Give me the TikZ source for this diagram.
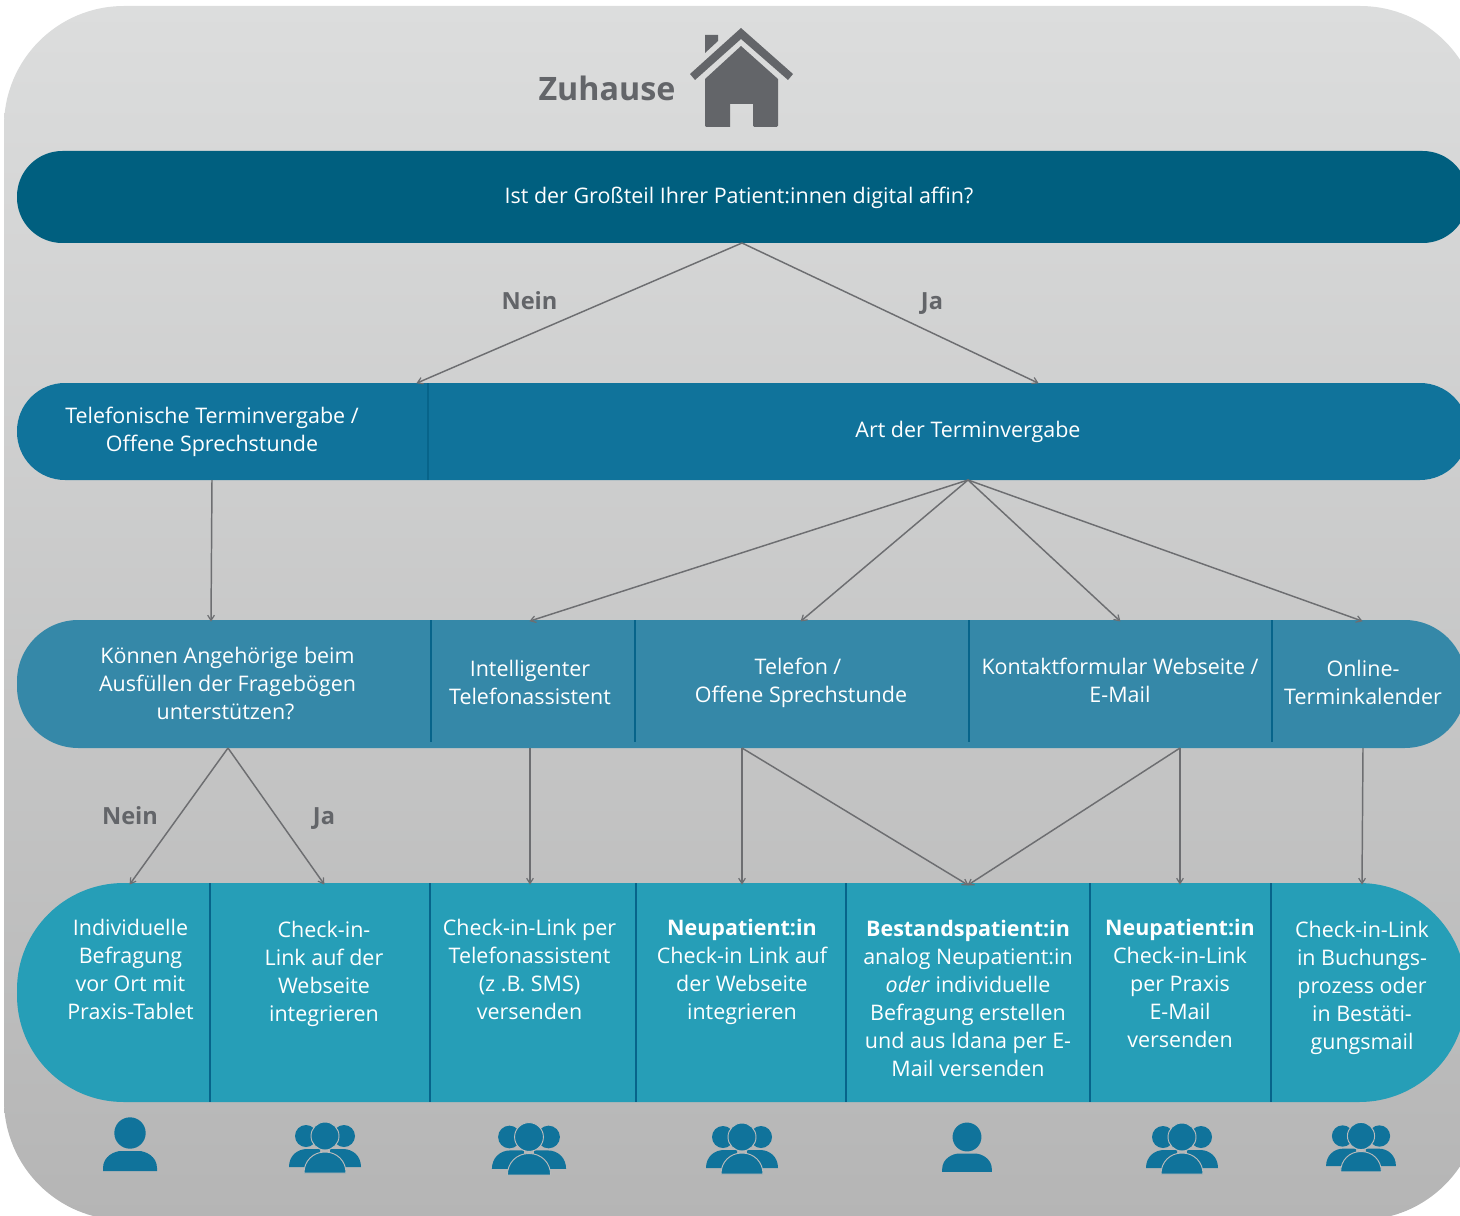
\documentclass[tikz,border=0pt]{standalone}
\usepackage{fontspec}
\setmainfont{Open Sans}
\usetikzlibrary{arrows.meta}
\definecolor{bgtop}{HTML}{DCDDDD}
\definecolor{bgbot}{HTML}{B5B5B5}
\definecolor{barA}{HTML}{005F7F}
\definecolor{barB}{HTML}{10739B}
\definecolor{barC}{HTML}{3588A8}
\definecolor{barD}{HTML}{269EB7}
\definecolor{divcol}{HTML}{07648A}
\definecolor{linecol}{HTML}{6D6E71}
\definecolor{darkgray}{HTML}{636569}
\definecolor{iconblue}{HTML}{10739B}
\definecolor{halo}{HTML}{BBBBBB}
\newcommand{\tsp}[1]{\hspace*{#1pt}}
\tikzset{
  bartext/.style={text=white,align=center,inner sep=0pt,font=\fontsize{16.1pt}{21pt}\selectfont},
  answer/.style={text=darkgray,inner sep=0pt,font=\fontsize{17.7pt}{21pt}\selectfont\bfseries},
  conn/.style={draw=linecol,line width=1.1pt,-{Straight Barb[length=4pt,width=5pt,line width=0.9pt]},shorten >=-0.5pt},
  divider/.style={draw=divcol,line width=1.5pt},
}
\newcommand{\bodyshape}[4]{% half width, top, bottom, flat half width
  (-#1,#3) -- (-#1,#3-3) .. controls (-#1,#2+5) and (-#4-6,#2) .. (-#4,#2) -- (#4,#2) .. controls (#4+6,#2) and (#1,#2+5) .. (#1,#3-3) -- (#1,#3) -- cycle}
\newcommand{\personicon}[3]{%
  \begin{scope}[shift={(#1,#2)},scale=#3]
    \fill[iconblue] (0,0) circle[radius=15.7];
    \fill[iconblue] \bodyshape{27}{18}{38}{9};
  \end{scope}}
\newcommand{\groupicon}[3]{%
  \begin{scope}[shift={(#1,#2)},scale=#3]
    \fill[iconblue] (-19,0) circle[radius=11];
    \fill[iconblue] (19,0) circle[radius=11];
    \fill[iconblue] (-36,31) .. controls (-36,20) and (-28,13) .. (-18,13) -- (-5,13) -- (-5,31) -- cycle;
    \fill[iconblue] (36,31) .. controls (36,20) and (28,13) .. (18,13) -- (5,13) -- (5,31) -- cycle;
    \filldraw[iconblue,draw=halo,line width=0.7pt] (0,0) circle[radius=14];
    \filldraw[iconblue,draw=halo,line width=0.7pt] (-21,37) .. controls (-21,25) and (-12,16) .. (0,16) .. controls (12,16) and (21,25) .. (21,37) -- cycle;
  \end{scope}}
\begin{document}
\begin{tikzpicture}[x=0.75pt,y=-0.75pt]
\useasboundingbox (0,0) rectangle (1460,1216);
\clip (0,0) rectangle (1460,1216);
% background
\shade[top color=bgtop,bottom color=bgbot,rounded corners=90pt] (4,6) rectangle (1480,1220);
% bars
\fill[barA,rounded corners=34pt] (17,151) rectangle (1468,243);
\fill[barB,rounded corners=36pt] (17,383) rectangle (1468,480);
\fill[barC,rounded corners=46pt] (17,620) rectangle (1466,748);
\fill[barD,rounded corners=80pt] (17,883) rectangle (1466,1102);
% dividers
\draw[divider] (428,383) -- (428,480);
\foreach \x in {431,635,969,1272} \draw[divider] (\x,620) -- (\x,742);
\foreach \x in {210,430,636,846,1090,1271} \draw[divider] (\x,883) -- (\x,1102);
% header
\node[text=darkgray,inner sep=0pt,font=\fontsize{24.2pt}{28pt}\selectfont\bfseries] (home) at (607,88) {Zuhause};
\fill[darkgray] (705,35) -- (718,35) -- (718,41) -- (705,53) -- cycle;
\fill[darkgray] (741,28) -- (793,74) -- (788,80) -- (741,39) -- (695,80) -- (690,74) -- cycle;
\fill[darkgray] (741,46) -- (778,79) -- (778,125) [rounded corners=1pt] -- (778,127) -- (753,127) [sharp corners] -- (753,104) -- (730,104) -- (730,127) [rounded corners=1pt] -- (705,127) -- (705,125) [sharp corners] -- (705,79) -- cycle;
% texts
\node[bartext] (q) at (739,198) {Ist der Großteil Ihrer Patient:innen digital affin?};
\node[bartext] (tel) at (212,432) {Telefonische Terminvergabe /\\Offene Sprechstunde};
\node[bartext] (art) at (968,432) {Art der Terminvergabe};
\node[bartext] (ang) at (227.5,683) {Können Angehörige beim\\Ausfüllen der Fragebögen\\unterstützen?\tsp{3}};
\node[bartext] (ita) at (530,682) {Intelligenter\\Telefonassistent};
\node[bartext] (tos) at (801,683) {Telefon /\tsp{4.5}\\Offene Sprechstunde};
\node[bartext] (kfw) at (1120,680) {Kontaktformular Webseite /\\E-Mail};
\node[bartext] (otk) at (1363,682) {Online-\\Terminkalender};
\node[bartext] (ind) at (130.5,969) {Individuelle\\Befragung\tsp{3}\\vor Ort mit\tsp{3}\\Praxis-Tablet};
\node[bartext] (cil) at (324,974) {Check-in-\\Link auf der\\Webseite\\integrieren};
\node[bartext] (cit) at (529.5,969) {Check-in-Link per\\Telefonassistent\tsp{4}\\(z .B. SMS)\\versenden};
\node[bartext] (neu) at (742,972) {\textbf{Neupatient:in}\\Check-in Link auf\\der Webseite\\integrieren};
\node[bartext] (bes) at (968,998) {\textbf{Bestandspatient:in}\\analog Neupatient:in\\\textit{oder} individuelle\\Befragung erstellen\\und aus Idana per E-\\Mail versenden};
\node[bartext] (nem) at (1180,983) {\textbf{Neupatient:in}\\Check-in-Link\\per Praxis\tsp{4.5}\\E-Mail\\versenden};
\node[bartext] (cib) at (1362,988) {Check-in-Link\\in Buchungs-\\prozess oder\\in Bestäti-\\gungsmail};
% ports
\coordinate (pq) at (742,243);
\coordinate (ptelT) at (417,383);
\coordinate (partT) at (1038,383);
\coordinate (ptelB) at (212,480);
\coordinate (partB) at (968,480);
\coordinate (pangT) at (211,621);
\coordinate (pitaT) at (530,621);
\coordinate (ptosT) at (801,621);
\coordinate (pkfwT) at (1120,621);
\coordinate (potkT) at (1362,621);
\coordinate (pangB) at (228,748);
\coordinate (pitaB) at (530,748);
\coordinate (ptosB) at (742,748);
\coordinate (pkfwB) at (1180,748);
\coordinate (potkB) at (1363,748);
\coordinate (pindT) at (130,884);
\coordinate (pcilT) at (324,884);
\coordinate (pcitT) at (530,884);
\coordinate (pneuT) at (742,884);
\coordinate (pbesT) at (968,885);
\coordinate (pnemT) at (1180,884);
\coordinate (pcibT) at (1362,884);
% connectors
\draw[conn] (pq) -- (ptelT);
\draw[conn] (pq) -- (partT);
\draw[conn] (ptelB) -- (pangT);
\draw[conn] (partB) -- (pitaT);
\draw[conn] (partB) -- (ptosT);
\draw[conn] (partB) -- (pkfwT);
\draw[conn] (partB) -- (potkT);
\draw[conn] (pangB) -- (pindT);
\draw[conn] (pangB) -- (pcilT);
\draw[conn] (pitaB) -- (pcitT);
\draw[conn] (ptosB) -- (pneuT);
\draw[conn] (ptosB) -- (pbesT);
\draw[conn] (pkfwB) -- (pbesT);
\draw[conn] (pkfwB) -- (pnemT);
\draw[conn] (potkB) -- (pcibT);
% answers
\node[answer] (n1) at (529.5,301) {Nein};
\node[answer] (j1) at (932,304) {Ja};
\node[answer] (n2) at (130,816) {Nein};
\node[answer] (j2) at (324,819) {Ja};
% icons
\personicon{130}{1133}{1}
\personicon{967}{1137}{0.92}
\groupicon{325}{1136}{1}
\groupicon{529}{1137}{1.03}
\groupicon{742}{1137}{1}
\groupicon{1182}{1137}{1}
\groupicon{1361}{1136}{0.97}
\end{tikzpicture}
\end{document}
